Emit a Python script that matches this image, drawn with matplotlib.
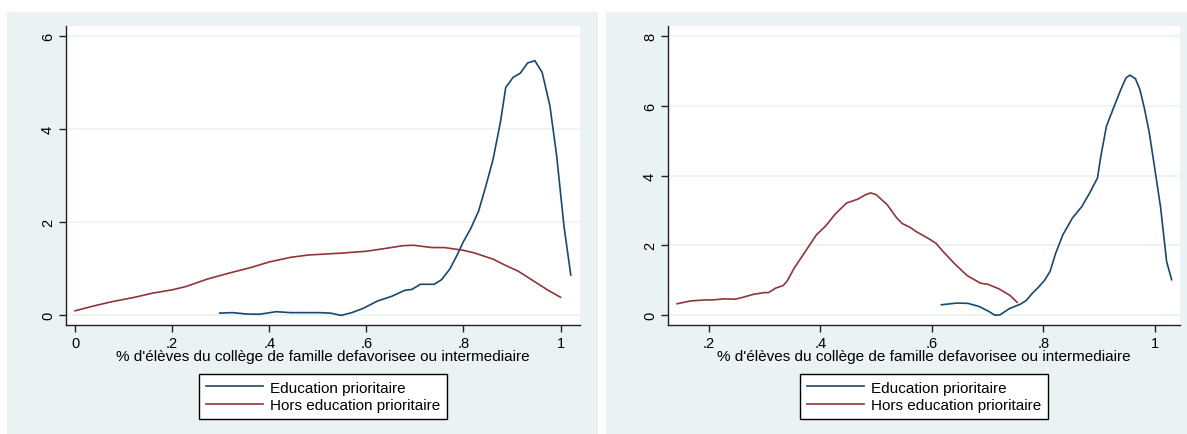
import numpy as np
import matplotlib
matplotlib.use('Agg')
import matplotlib.pyplot as plt
from matplotlib.patches import Rectangle

plt.rcParams['font.family'] = ['Liberation Sans', 'DejaVu Sans']

# left panel: density curves
ep_left_x = [0.298, 0.324, 0.354, 0.38, 0.414, 0.444, 0.503, 0.526, 0.548, 0.57, 0.593, 0.623,
             0.652, 0.679, 0.694, 0.711, 0.74, 0.755, 0.772, 0.787, 0.80, 0.815, 0.831, 0.846,
             0.861, 0.876, 0.887, 0.902, 0.917, 0.932, 0.947, 0.962, 0.978, 0.992, 1.007, 1.021]
ep_left_y = [0.04, 0.05, 0.02, 0.015, 0.07, 0.05, 0.05, 0.04, -0.01, 0.05, 0.14, 0.30,
             0.40, 0.53, 0.55, 0.66, 0.66, 0.76, 0.99, 1.29, 1.58, 1.86, 2.23, 2.77,
             3.35, 4.14, 4.89, 5.11, 5.20, 5.42, 5.47, 5.22, 4.50, 3.42, 1.91, 0.86]
hep_left_x = [0.0, 0.041, 0.078, 0.123, 0.16, 0.2, 0.228, 0.272, 0.317, 0.362, 0.40, 0.444,
              0.481, 0.548, 0.60, 0.645, 0.675, 0.697, 0.735, 0.761, 0.80, 0.824, 0.861,
              0.884, 0.913, 0.943, 0.973, 1.0]
hep_left_y = [0.09, 0.20, 0.29, 0.38, 0.47, 0.54, 0.61, 0.77, 0.90, 1.02, 1.14, 1.24,
              1.29, 1.33, 1.37, 1.44, 1.49, 1.50, 1.45, 1.45, 1.39, 1.33, 1.20,
              1.08, 0.94, 0.74, 0.54, 0.38]

# right panel
ep_right_x = [0.617, 0.645, 0.665, 0.685, 0.702, 0.713, 0.722, 0.739, 0.759, 0.769, 0.779,
              0.792, 0.802, 0.812, 0.822, 0.835, 0.852, 0.869, 0.883, 0.897, 0.903, 0.913,
              0.927, 0.939, 0.948, 0.955, 0.965, 0.973, 0.981, 0.99, 1.0, 1.01, 1.021, 1.03]
ep_right_y = [0.29, 0.34, 0.33, 0.24, 0.10, -0.01, 0.0, 0.18, 0.31, 0.41, 0.60,
              0.81, 0.99, 1.25, 1.77, 2.30, 2.78, 3.11, 3.50, 3.93, 4.55, 5.41,
              5.99, 6.47, 6.80, 6.88, 6.78, 6.47, 5.94, 5.22, 4.17, 3.11, 1.53, 1.01]
hep_right_x = [0.143, 0.167, 0.193, 0.207, 0.227, 0.247, 0.26, 0.28, 0.30, 0.307, 0.32, 0.333,
               0.34, 0.353, 0.373, 0.393, 0.41, 0.427, 0.447, 0.467, 0.48, 0.49, 0.50, 0.52,
               0.537, 0.547, 0.56, 0.573, 0.593, 0.607, 0.62, 0.64, 0.663, 0.687, 0.70,
               0.72, 0.74, 0.753]
hep_right_y = [0.32, 0.40, 0.43, 0.43, 0.46, 0.45, 0.50, 0.59, 0.64, 0.64, 0.77, 0.84,
               0.96, 1.34, 1.82, 2.30, 2.56, 2.90, 3.21, 3.32, 3.44, 3.50, 3.45, 3.16,
               2.78, 2.62, 2.52, 2.38, 2.20, 2.06, 1.82, 1.48, 1.13, 0.91, 0.88,
               0.75, 0.56, 0.36]

left_xticks = [0, 0.2, 0.4, 0.6, 0.8, 1.0]
left_xlabels = ['0', '.2', '.4', '.6', '.8', '1']
left_yticks = [0, 2, 4, 6]
right_xticks = [0.2, 0.4, 0.6, 0.8, 1.0]
right_xlabels = ['.2', '.4', '.6', '.8', '1']
right_yticks = [0, 2, 4, 6, 8]

xtitle = "% d'élèves du collège de famille defavorisee ou intermediaire"
series_names = ['Education prioritaire', 'Hors education prioritaire']

navy = '#1a476f'
maroon = '#90353b'
bg = '#eaf2f3'

W, H = 1187, 435
fig = plt.figure(figsize=(W / 100, H / 100), dpi=100)
fig.patch.set_facecolor('white')

# grey panels behind each graph
fig.patches.append(Rectangle((7 / W, 0), 591 / W, 1 - 13 / H, transform=fig.transFigure,
                             facecolor=bg, edgecolor='none', zorder=-5))
fig.patches.append(Rectangle((606 / W, 0), 581 / W, 1 - 13 / H, transform=fig.transFigure,
                             facecolor=bg, edgecolor='none', zorder=-5))

ax1 = fig.add_axes([66 / W, 109 / H, 514 / W, 299 / H], zorder=2)
ax2 = fig.add_axes([668 / W, 109 / H, 512 / W, 299 / H], zorder=2)


def style(ax, xticks, xlabels, yticks, xlim, ylim):
    ax.set_facecolor('white')
    ax.set_xlim(xlim)
    ax.set_ylim(ylim)
    for s in ['top', 'right']:
        ax.spines[s].set_visible(False)
    for s in ['left', 'bottom']:
        ax.spines[s].set_color('#222222')
        ax.spines[s].set_linewidth(1.0)
    ax.set_xticks(xticks)
    ax.set_xticklabels(xlabels)
    ax.set_yticks(yticks)
    ax.set_yticklabels([str(t) for t in yticks], rotation=90, va='center')
    ax.tick_params(axis='both', length=5, width=1, color='#222222', labelsize=10.5, pad=3)
    for t in yticks:
        ax.axhline(t, color=bg, lw=1.2, zorder=0)
    ax.set_xlabel(xtitle, fontsize=11, labelpad=-1)


l1, = ax1.plot(ep_left_x, ep_left_y, color=navy, lw=1.2)
l2, = ax1.plot(hep_left_x, hep_left_y, color=maroon, lw=1.2)
style(ax1, left_xticks, left_xlabels, left_yticks, (-0.0186, 1.040), (-0.216, 6.216))

ax2.plot(ep_right_x, ep_right_y, color=navy, lw=1.2)
ax2.plot(hep_right_x, hep_right_y, color=maroon, lw=1.2)
style(ax2, right_xticks, right_xlabels, right_yticks, (0.1267, 1.045), (-0.29, 8.29))

for ax in [ax1, ax2]:
    pos = ax.get_position()
    cx = pos.x0 + pos.width / 2
    leg = fig.legend([l1, l2], series_names, loc='center', bbox_to_anchor=(cx, 37.5 / H),
                     fontsize=11, frameon=True, fancybox=False, edgecolor='black',
                     facecolor='white', framealpha=1.0,
                     handlelength=3.7, handletextpad=0.45, borderpad=0.45, labelspacing=0.25)
    leg.get_frame().set_linewidth(1.0)
    leg.set_zorder(3)

fig.savefig('out.png', dpi=100, facecolor='white')
